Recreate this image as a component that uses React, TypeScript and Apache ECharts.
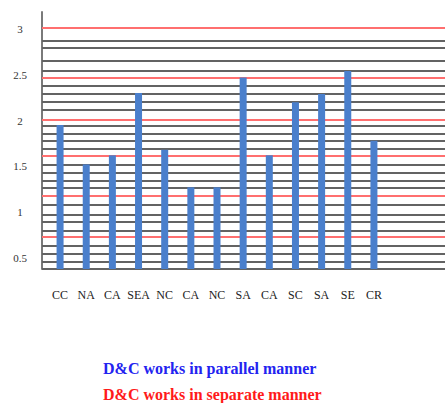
import React, { useEffect, useRef } from "react";
import * as echarts from "echarts";

const categories = ["CC", "NA", "CA", "SEA", "NC", "CA", "NC", "SA", "CA", "SC", "SA", "SE", "CR"];
const values = [1.95, 1.52, 1.62, 2.3, 1.68, 1.27, 1.27, 2.47, 1.62, 2.2, 2.29, 2.54, 1.78];
const yTickLabels = [0.5, 1, 1.5, 2, 2.5, 3];
const blackLines = [
  2.872, 2.789, 2.654, 2.544, 2.377, 2.29, 2.199, 2.118, 1.943, 1.86, 1.779, 1.689,
  1.521, 1.434, 1.339, 1.27, 1.084, 0.975, 0.887, 0.803, 0.632, 0.541, 0.457, 0.377,
];
const redLines = [3.008, 2.468, 2.013, 1.615, 1.178, 0.73];
const legendTexts = ["D&C works in parallel manner", "D&C works in separate manner"];

const Y_MIN = 0.377;
const Y_MAX = 3.186;
const SERIF = "'Liberation Serif', 'Times New Roman', serif";

export default function App() {
  const ref = useRef<HTMLDivElement>(null);
  useEffect(() => {
    if (!ref.current) return;
    const chart = echarts.init(ref.current, null, { renderer: "svg" });
    const top = 12;
    const height = 257;
    chart.setOption({
      animation: false,
      backgroundColor: "#ffffff",
      grid: [
        { left: 42, right: 0, top, height },
        { left: 47, width: 340, top, height },
      ],
      xAxis: [
        { gridIndex: 0, type: "value", min: 0, max: 1, show: false },
        {
          gridIndex: 1,
          type: "category",
          data: categories,
          axisLine: { show: false },
          axisTick: { show: false },
          axisLabel: { interval: 0, margin: 20, fontFamily: SERIF, fontSize: 12, color: "#222" },
        },
      ],
      yAxis: [
        {
          gridIndex: 0,
          type: "value",
          min: Y_MIN,
          max: Y_MAX,
          splitLine: { show: false },
          axisTick: { show: false },
          axisLine: { show: true, lineStyle: { color: "#7a7a7a", width: 2 } },
          axisLabel: {
            customValues: yTickLabels,
            formatter: (v: number) => String(v),
            fontFamily: SERIF,
            fontSize: 11,
            color: "#333",
            align: "center",
            margin: 22,
          },
        },
        { gridIndex: 1, type: "value", min: Y_MIN, max: Y_MAX, show: false },
      ],
      series: [
        {
          type: "line",
          xAxisIndex: 0,
          yAxisIndex: 0,
          data: [],
          z: 1,
          markLine: {
            silent: true,
            symbol: ["none", "none"],
            label: { show: false },
            lineStyle: { color: "#636363", width: 2, type: "solid" },
            data: blackLines.map((v) => ({ yAxis: v })),
          },
        },
        {
          type: "line",
          xAxisIndex: 0,
          yAxisIndex: 0,
          data: [],
          z: 2,
          markLine: {
            silent: true,
            symbol: ["none", "none"],
            label: { show: false },
            lineStyle: { color: "#ff6f6f", width: 2, type: "solid" },
            data: redLines.map((v) => ({ yAxis: v })),
          },
        },
        {
          type: "bar",
          xAxisIndex: 1,
          yAxisIndex: 1,
          data: values,
          barWidth: 7,
          z: 5,
          itemStyle: { color: "#4a7fcc" },
        },
      ],
      graphic: [
        {
          type: "text",
          left: 103,
          top: 360,
          style: {
            text: legendTexts[0],
            fill: "#2323f0",
            font: `bold 16px ${SERIF}`,
          },
        },
        {
          type: "text",
          left: 103,
          top: 386,
          style: {
            text: legendTexts[1],
            fill: "#ff1a1a",
            font: `bold 16px ${SERIF}`,
          },
        },
      ],
    });
    return () => chart.dispose();
  }, []);
  return (
    <div
      ref={ref}
      style={{ position: "fixed", left: 0, top: 0, width: 445, height: 403 }}
    />
  );
}
